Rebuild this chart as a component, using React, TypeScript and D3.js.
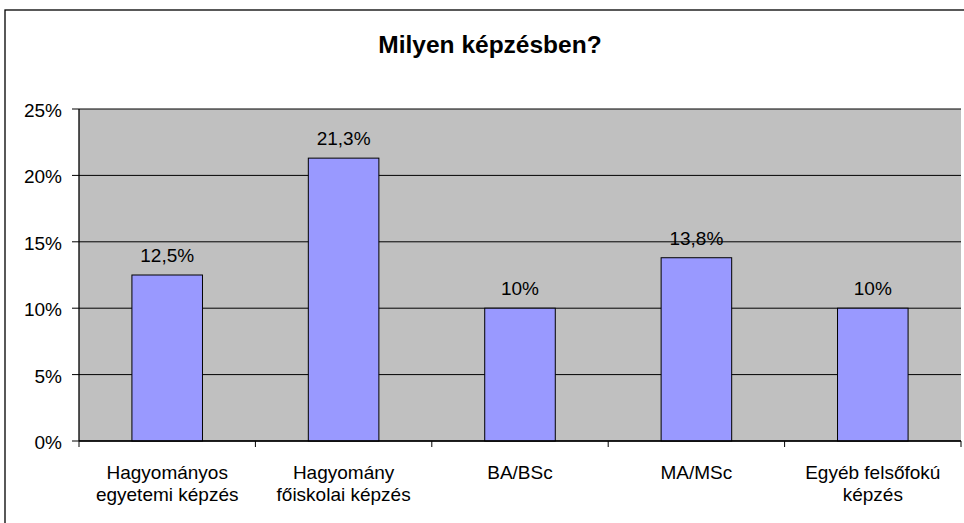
import React from "react";
import * as d3 from "d3";

const title = "Milyen képzésben?";
const categories = [
  "Hagyományos egyetemi képzés",
  "Hagyomány főiskolai képzés",
  "BA/BSc",
  "MA/MSc",
  "Egyéb felsőfokú képzés",
];
const categoryLines = [
  ["Hagyományos", "egyetemi képzés"],
  ["Hagyomány", "főiskolai képzés"],
  ["BA/BSc"],
  ["MA/MSc"],
  ["Egyéb felsőfokú", "képzés"],
];
const values = [12.5, 21.3, 10, 13.8, 10];
const yTicks = [0, 5, 10, 15, 20, 25];

const W = 964;
const H = 523;
const FONT = "'Liberation Sans', Arial, Helvetica, sans-serif";

export default function App() {
  const left = 79;
  const right = 961;
  const top = 109;
  const bottom = 441;
  const x = d3.scaleBand<string>().domain(categories).range([left, right]).padding(0);
  const y = d3.scaleLinear().domain([0, 25]).range([bottom, top]);
  const bw = x.bandwidth() * 0.4;
  const fmt = (v: number) => String(v).replace(".", ",") + "%";
  const boundaries = categories.map((c) => x(c) as number).concat([right]);

  return (
    <svg
      width={W}
      height={H}
      style={{ position: "absolute", left: 0, top: 0, background: "#fff" }}
      fontFamily={FONT}
    >
      <rect x={5} y={10} width={1000} height={600} fill="#fff" stroke="#000" strokeWidth={1.3} />
      <text x={490} y={53} textAnchor="middle" fontSize={24.5} fontWeight="bold" fill="#000">
        {title}
      </text>
      <rect x={left} y={top} width={right - left} height={bottom - top} fill="#C0C0C0" />
      {yTicks.map((t) => (
        <line key={"g" + t} x1={left} x2={right} y1={y(t)} y2={y(t)} stroke="#000" strokeWidth={1} />
      ))}
      {categories.map((c, i) => {
        const cx = (x(c) as number) + x.bandwidth() / 2;
        return (
          <rect
            key={"b" + c}
            x={cx - bw / 2}
            y={y(values[i])}
            width={bw}
            height={y(0) - y(values[i])}
            fill="#9999FF"
            stroke="#000"
            strokeWidth={1}
          />
        );
      })}
      <line x1={left} x2={left} y1={top} y2={bottom} stroke="#000" strokeWidth={1.3} />
      <line x1={left} x2={right} y1={bottom} y2={bottom} stroke="#000" strokeWidth={1.3} />
      {yTicks.map((t) => (
        <g key={"t" + t}>
          <line x1={left - 7} x2={left} y1={y(t)} y2={y(t)} stroke="#000" strokeWidth={1} />
          <text x={62} y={y(t) + 8} textAnchor="end" fontSize={19} fill="#000">
            {t + "%"}
          </text>
        </g>
      ))}
      {boundaries.map((b, i) => (
        <line key={"xt" + i} x1={b} x2={b} y1={bottom} y2={bottom + 6} stroke="#000" strokeWidth={1} />
      ))}
      {categories.map((c, i) => {
        const cx = (x(c) as number) + x.bandwidth() / 2;
        return (
          <text key={"l" + c} x={cx} textAnchor="middle" fontSize={19} fill="#000">
            {categoryLines[i].map((ln, j) => (
              <tspan key={j} x={cx} y={479 + j * 21.5}>
                {ln}
              </tspan>
            ))}
          </text>
        );
      })}
      {categories.map((c, i) => {
        const cx = (x(c) as number) + x.bandwidth() / 2;
        return (
          <text key={"v" + c} x={cx} y={y(values[i]) - 13} textAnchor="middle" fontSize={19} fill="#000">
            {fmt(values[i])}
          </text>
        );
      })}
    </svg>
  );
}
